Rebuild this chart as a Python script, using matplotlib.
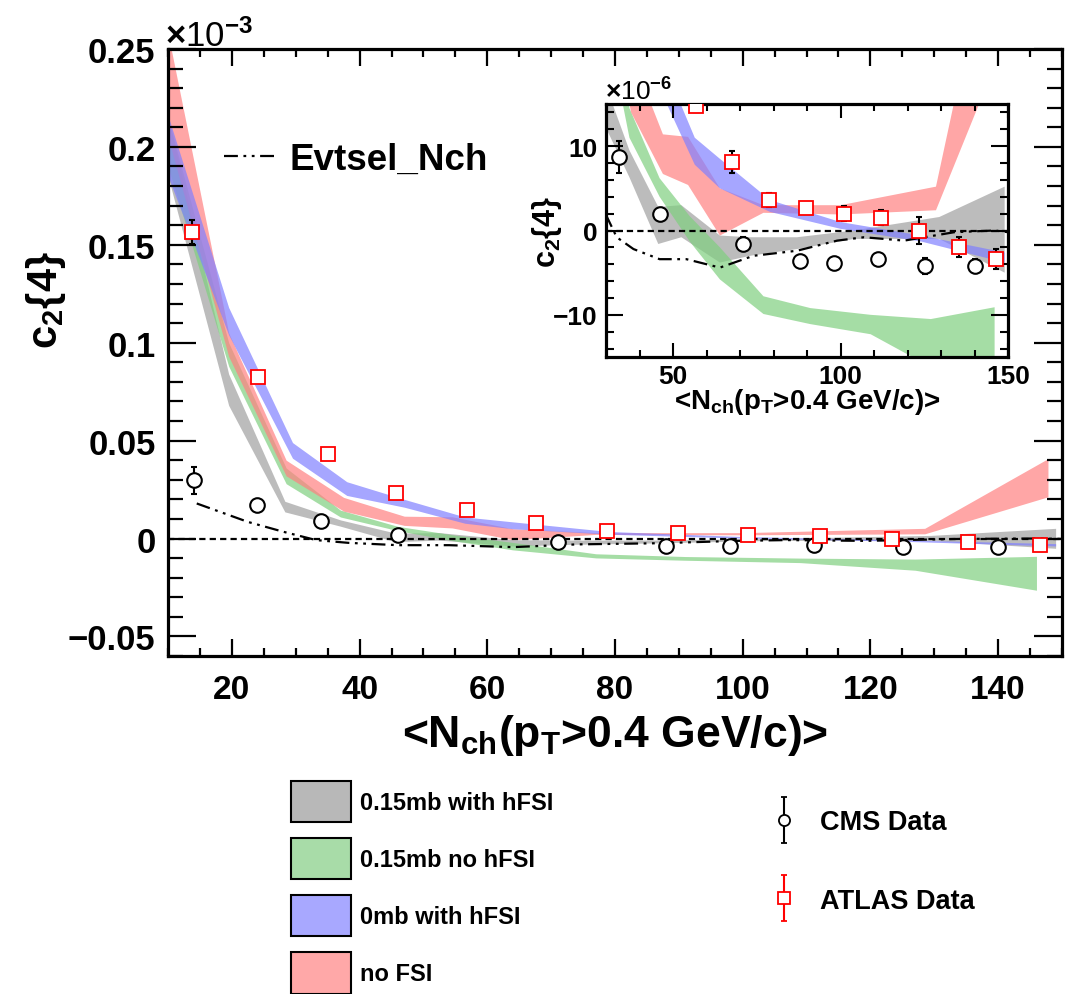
import numpy as np
import matplotlib
matplotlib.use('Agg')
import matplotlib.pyplot as plt
from matplotlib.patches import Patch
from matplotlib.ticker import MultipleLocator, FuncFormatter
from matplotlib.legend_handler import HandlerErrorbar
from matplotlib.container import ErrorbarContainer

plt.rcParams['font.family'] = ['Liberation Sans', 'DejaVu Sans']
plt.rcParams['font.weight'] = 'bold'
plt.rcParams['axes.labelweight'] = 'bold'
plt.rcParams['mathtext.fontset'] = 'custom'
plt.rcParams['mathtext.rm'] = 'Liberation Sans'
plt.rcParams['mathtext.bf'] = 'Liberation Sans:bold'
plt.rcParams['mathtext.it'] = 'Liberation Sans:italic'
plt.rcParams['mathtext.default'] = 'bf'
plt.rcParams['lines.scale_dashes'] = False

# ---------------- data: c2{4} in units of 1e-3 ----------------
cms_x = [14.0, 23.9, 33.9, 46.0, 71.0, 88.0, 98.0, 111.1, 125.1, 140.0]
cms_y = [0.0297, 0.0173, 0.0087, 0.0019, -0.0016, -0.0036, -0.0039, -0.0034, -0.0042, -0.0042]
cms_err = [0.0069, 0.0012, 0.0019, 0.0008, 0.0008, 0.0007, 0.0007, 0.0006, 0.0009, 0.0008]

atlas_x = [13.7, 24.1, 35.0, 45.7, 56.8, 67.6, 78.8, 89.8, 100.9, 112.1, 123.3, 135.3, 146.5]
atlas_y = [0.1565, 0.0827, 0.0430, 0.0230, 0.0148, 0.0081, 0.0036, 0.0027, 0.0020, 0.0015, 0.0000, -0.0020, -0.0034]
atlas_err = [0.0060, 0.0020, 0.0012, 0.0009, 0.0008, 0.0013, 0.0008, 0.0006, 0.0009, 0.0009, 0.0016, 0.0012, 0.0012]

gray_x = [10, 19.5, 28.3, 37, 45.6, 52.5, 64, 73, 87, 104, 129.5, 149]
gray_lo = [0.185, 0.068, 0.0136, 0.0063, -0.0016, -0.0008, -0.0038, -0.0030, -0.0022, -0.0010, -0.0010, -0.0050]
gray_hi = [0.215, 0.084, 0.0190, 0.0095, 0.0028, 0.0030, -0.0006, -0.0008, -0.0008, 0.0000, 0.0016, 0.0052]

green_x = [10, 19.5, 28.5, 37, 46, 55, 64, 77, 91, 109, 127, 146]
green_lo = [0.190, 0.088, 0.028, 0.0110, 0.0040, -0.0013, -0.0058, -0.0099, -0.0111, -0.0123, -0.0162, -0.0264]
green_hi = [0.215, 0.100, 0.036, 0.0145, 0.0062, 0.0017, -0.0020, -0.0078, -0.0092, -0.0100, -0.0105, -0.0091]

blue_x = [10, 19.5, 29.5, 38, 47, 56.5, 64, 79, 100, 124, 149]
blue_lo = [0.185, 0.104, 0.041, 0.022, 0.0160, 0.0078, 0.0050, 0.0022, 0.0002, -0.0013, -0.0038]
blue_hi = [0.216, 0.118, 0.049, 0.029, 0.0200, 0.0110, 0.0085, 0.0036, 0.0010, -0.0006, -0.0026]

red_x = [10, 19.5, 28.5, 37.5, 47, 54.5, 64, 77, 100, 128.5, 147.8]
red_lo = [0.205, 0.093, 0.032, 0.0140, 0.0067, 0.0054, -0.0006, 0.0021, 0.0019, 0.0024, 0.0213]
red_hi = [0.258, 0.105, 0.040, 0.0210, 0.0114, 0.0111, 0.0050, 0.0030, 0.0030, 0.0052, 0.0408]

ev_x = [14.5, 22.5, 28, 33.2, 38.2, 46, 54, 64, 74, 87, 99, 107, 119, 134, 146, 150]
ev_y = [0.0179, 0.0085, 0.0035, -0.0008, -0.0022, -0.0034, -0.0034, -0.0044, -0.0030, -0.0024,
        -0.0012, -0.0008, -0.0012, -0.0002, 0.0000, -0.0002]

band_labels = ['0.15mb with hFSI', '0.15mb no hFSI', '0mb with hFSI', 'no FSI']
band_colors = ['#a0a0a0', '#7fcf7f', '#8080ff', '#ff8080']
legend_colors = ['#b8b8b8', '#a8dca8', '#a8a8ff', '#ffa8a8']

ev_style = (0, (10, 4, 2, 4, 2, 4))
zero_style = (0, (4.5, 3))


def fmt(v, pos):
    v = round(v, 6)
    if v == 0:
        return '0'
    return ('%g' % v).replace('-', '\u2212')


def draw(ax, scale):
    # drawing order gray, green, red, blue (colours follow band_labels: gray, green, blue, red)
    bands = [(gray_x, gray_lo, gray_hi, band_colors[0]),
             (green_x, green_lo, green_hi, band_colors[1]),
             (red_x, red_lo, red_hi, band_colors[3]),
             (blue_x, blue_lo, blue_hi, band_colors[2])]
    for bx, lo, hi, c in bands:
        ax.fill_between(bx, np.array(lo) * scale, np.array(hi) * scale,
                        color=c, alpha=0.7, lw=0, zorder=1)
    ax.axhline(0, color='black', ls=zero_style, lw=1.6, zorder=2)
    ax.plot(ev_x, np.array(ev_y) * scale, color='black', lw=1.6, ls=ev_style, zorder=3)
    ax.errorbar(cms_x, np.array(cms_y) * scale, yerr=np.array(cms_err) * scale, fmt='none',
                ecolor='black', elinewidth=1.5, capsize=2.5, capthick=1.5, zorder=4)
    ax.plot(cms_x, np.array(cms_y) * scale, 'o', mfc='white', mec='black', ms=10.5, mew=1.5,
            zorder=5)
    ax.errorbar(atlas_x, np.array(atlas_y) * scale, yerr=np.array(atlas_err) * scale, fmt='none',
                ecolor='black', elinewidth=1.5, capsize=2.5, capthick=1.5, zorder=6)
    ax.plot(atlas_x, np.array(atlas_y) * scale, 's', mfc='white', mec='red', ms=10.5, mew=1.3,
            zorder=7)


fig = plt.figure(figsize=(10.69, 9.95), dpi=100)
W, H = 1069.0, 995.0

# ---------------- main axes ----------------
ax = fig.add_axes([168 / W, 1 - 657 / H, 894 / W, 607 / H])
draw(ax, 1.0)
ax.set_xlim(10, 150)
ax.set_ylim(-0.06, 0.25)
ax.xaxis.set_major_locator(MultipleLocator(20))
ax.xaxis.set_minor_locator(MultipleLocator(5))
ax.yaxis.set_major_locator(MultipleLocator(0.05))
ax.yaxis.set_minor_locator(MultipleLocator(0.01))
ax.yaxis.set_major_formatter(FuncFormatter(fmt))
ax.tick_params(axis='x', which='major', direction='in', length=12, width=1.6, top=True,
               labelsize=24, pad=13)
ax.tick_params(axis='x', which='minor', direction='in', length=6, width=1.6, top=True)
ax.tick_params(axis='y', which='major', direction='in', length=20, width=1.6, right=True,
               labelsize=25, pad=9)
ax.tick_params(axis='y', which='minor', direction='in', length=11, width=1.6, right=True)
for s in ax.spines.values():
    s.set_linewidth(2.3)
ax.set_xlabel(r'<N$_{\mathbf{ch}}$(p$_{\mathbf{T}}$>0.4 GeV/c)>', fontsize=32, fontweight='bold')
ax.xaxis.set_label_coords(0.5, -0.092)
ax.set_ylabel(r'c$_{2}${4}', fontsize=30, fontweight='bold')
ax.yaxis.set_label_coords(-0.112, 0.588)
fig.text(165 / W, 1 - 47 / H, r'$\times$10$^{\mathrm{-3}}$', fontsize=25, fontweight='normal',
         va='baseline', ha='left')

ev_handle, = ax.plot([], [], color='black', lw=1.6, ls=ev_style)
ax.legend([ev_handle], ['Evtsel_Nch'], loc='upper left', bbox_to_anchor=(0.063, 0.847),
          frameon=False, fontsize=26.5, handlelength=1.45, handletextpad=0.33,
          borderpad=0, borderaxespad=0)

# ---------------- inset ----------------
axin = fig.add_axes([606 / W, 1 - 358 / H, 402 / W, 253 / H])
axin.set_facecolor('white')
draw(axin, 1000.0)
axin.set_xlim(30, 150)
axin.set_ylim(-15, 15)
axin.xaxis.set_major_locator(MultipleLocator(50))
axin.xaxis.set_minor_locator(MultipleLocator(10))
axin.yaxis.set_major_locator(MultipleLocator(10))
axin.yaxis.set_minor_locator(MultipleLocator(2))
axin.yaxis.set_major_formatter(FuncFormatter(fmt))
axin.tick_params(axis='x', which='major', direction='in', length=10, width=1.5, top=True,
                 labelsize=19, pad=5)
axin.tick_params(axis='x', which='minor', direction='in', length=5, width=1.5, top=True)
axin.tick_params(axis='y', which='major', direction='in', length=12, width=1.5, right=True,
                 labelsize=19, pad=6)
axin.tick_params(axis='y', which='minor', direction='in', length=6, width=1.5, right=True)
for s in axin.spines.values():
    s.set_linewidth(2.3)
axin.set_xlabel(r'<N$_{\mathbf{ch}}$(p$_{\mathbf{T}}$>0.4 GeV/c)>', fontsize=20, fontweight='bold')
axin.xaxis.set_label_coords(0.5, -0.115)
axin.set_ylabel(r'c$_{2}${4}', fontsize=22, fontweight='bold')
axin.yaxis.set_label_coords(-0.105, 0.5)
fig.text(605 / W, 1 - 101 / H, r'$\times$10$^{\mathrm{-6}}$', fontsize=19, fontweight='normal',
         va='baseline', ha='left')

# ---------------- bottom legends ----------------
patches = [Patch(facecolor=c, edgecolor='black', lw=1.5) for c in legend_colors]
leg1 = fig.legend(patches, band_labels, loc='upper left', bbox_to_anchor=(291 / W, 1 - 782 / H),
                  frameon=False, fontsize=17, handlelength=2.52, handleheight=2.3,
                  labelspacing=0.68, handletextpad=0.4, borderpad=0, borderaxespad=0)

cms_h = ax.errorbar([np.nan], [np.nan], yerr=[1], fmt='o', mfc='white', mec='black', ms=8,
                    mew=1.3, ecolor='black', elinewidth=1.5, capsize=2.5, capthick=1.5)
atl_h = ax.errorbar([np.nan], [np.nan], yerr=[1], fmt='s', mfc='white', mec='red', ms=8,
                    mew=1.3, ecolor='red', elinewidth=1.5, capsize=2.5, capthick=1.5)
leg2 = fig.legend([cms_h, atl_h], ['CMS Data', 'ATLAS Data'], loc='upper left',
                  bbox_to_anchor=(770 / W, 1 - 810 / H), frameon=False, fontsize=19.5,
                  handlelength=1.0, handletextpad=0.85, labelspacing=1.95, numpoints=1,
                  borderpad=0, borderaxespad=0,
                  handler_map={ErrorbarContainer: HandlerErrorbar(xerr_size=0.85)})

fig.savefig('out.png', dpi=100)
